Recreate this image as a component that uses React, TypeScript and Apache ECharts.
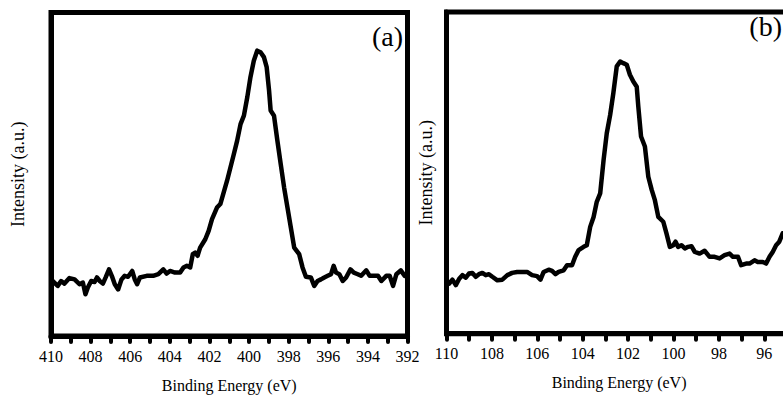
import React, { useEffect, useRef } from "react";
import * as echarts from "echarts";

// Panel (a): N 1s region
const energyA = [
  409.92, 409.66, 409.49, 409.32, 409.07, 408.81, 408.56, 408.39, 408.26, 408.14,
  407.97, 407.8, 407.68, 407.54, 407.38, 407.24, 407.07, 406.9, 406.78, 406.61,
  406.44, 406.28, 406.11, 405.9, 405.77, 405.65, 405.51, 405.17, 404.84, 404.58,
  404.33, 404.16, 403.99, 403.74, 403.48, 403.31, 403.14, 402.97, 402.84, 402.72,
  402.6, 402.47, 402.21, 402.04, 401.87, 401.62, 401.45, 401.28, 401.11, 400.94,
  400.77, 400.6, 400.43, 400.26, 400.09, 399.93, 399.76, 399.59, 399.42, 399.25,
  399.11, 398.99, 398.91, 398.74, 398.57, 398.4, 398.23, 398.06, 397.89, 397.72,
  397.47, 397.3, 397.13, 396.88, 396.71, 396.54, 396.37, 396.2, 396.03, 395.86,
  395.73, 395.61, 395.44, 395.27, 395.1, 394.88, 394.71, 394.51, 394.34, 394.08,
  393.91, 393.75, 393.49, 393.32, 393.07, 392.9, 392.73, 392.56, 392.34, 392.14,
];
const intensityA = [
  17.0, 15.5, 17.0, 16.2, 17.9, 17.5, 16.0, 16.5, 12.9, 15.0,
  17.0, 16.7, 18.1, 17.0, 16.2, 18.1, 20.6, 18.1, 16.0, 14.4,
  17.5, 18.6, 18.3, 20.1, 17.5, 16.0, 18.1, 18.6, 18.6, 19.1,
  20.6, 19.3, 20.1, 19.6, 19.6, 21.2, 21.7, 21.2, 25.3, 25.8,
  24.8, 27.3, 29.9, 32.5, 36.1, 39.7, 40.8, 44.4, 48.0, 52.1,
  56.2, 60.4, 65.5, 68.1, 73.8, 80.0, 85.1, 88.2, 87.7, 86.2,
  83.1, 75.9, 69.7, 68.1, 60.4, 53.1, 45.9, 39.7, 33.5, 27.3,
  25.3, 21.2, 18.3, 18.1, 15.5, 17.0, 17.5, 18.1, 18.6, 19.1,
  21.7, 19.6, 19.1, 17.0, 18.1, 20.6, 19.6, 19.1, 18.6, 20.3,
  18.6, 18.6, 18.6, 17.0, 18.6, 18.6, 15.5, 19.1, 20.3, 18.6,
];

// Panel (b): Si 2p region
const energyB = [
  109.88, 109.74, 109.59, 109.44, 109.3, 109.15, 109.01, 108.86, 108.71, 108.57,
  108.42, 108.27, 108.13, 107.98, 107.76, 107.54, 107.32, 107.11, 106.89, 106.67,
  106.45, 106.23, 106.01, 105.86, 105.72, 105.5, 105.35, 105.2, 105.06, 104.84,
  104.69, 104.47, 104.33, 104.18, 103.96, 103.82, 103.67, 103.52, 103.38, 103.23,
  103.08, 102.94, 102.79, 102.65, 102.5, 102.35, 102.21, 102.06, 101.92, 101.77,
  101.62, 101.55, 101.43, 101.26, 101.11, 100.96, 100.82, 100.67, 100.45, 100.31,
  100.16, 100.01, 99.91, 99.8, 99.65, 99.5, 99.36, 99.21, 99.06, 98.85,
  98.63, 98.41, 98.19, 97.97, 97.75, 97.53, 97.38, 97.16, 97.02, 96.8,
  96.65, 96.43, 96.29, 96.07, 95.92, 95.77, 95.63, 95.48, 95.34, 95.19,
];
const intensityB = [
  15.6, 16.8, 15.1, 17.1, 18.2, 17.4, 18.7, 18.9, 17.7, 18.5,
  18.9, 18.2, 18.5, 17.7, 16.6, 16.8, 18.2, 18.9, 19.2, 19.2,
  19.2, 18.2, 17.9, 16.8, 19.2, 19.9, 19.5, 18.5, 19.2, 19.7,
  21.3, 21.3, 23.9, 26.0, 27.0, 27.5, 33.2, 36.3, 41.0, 43.6,
  54.0, 62.3, 68.0, 74.8, 83.1, 84.6, 84.1, 83.6, 80.5, 78.4,
  76.8, 70.6, 61.3, 58.2, 48.8, 44.7, 41.5, 36.3, 34.8, 31.2,
  27.0, 27.5, 28.6, 27.0, 27.5, 26.5, 27.0, 27.2, 25.4, 24.9,
  25.8, 23.9, 23.9, 23.4, 24.4, 24.9, 23.9, 23.9, 21.3, 21.8,
  21.8, 22.8, 22.3, 22.3, 21.8, 23.9, 25.4, 27.5, 28.6, 31.2,
];

const rangeA = [392, 410];
const rangeB = [94, 110];
const panelLabels = ["(a)", "(b)"];
const xName = "Binding Energy (eV)";
const yName = "Intensity (a.u.)";

const FONT = "Liberation Serif";

function zip(xs: number[], ys: number[]) {
  return xs.map((x, i) => [x, ys[i]]);
}

function makeXAxis(gridIndex: number, range: number[], nameOffset: number, showRightEnd: boolean) {
  return {
    gridIndex,
    type: "value",
    min: range[0],
    max: range[1],
    interval: 2,
    inverse: true,
    name: xName,
    nameLocation: "middle",
    nameGap: 41,
    nameTextStyle: {
      fontFamily: FONT,
      fontSize: 16,
      color: "#000",
      padding: nameOffset > 0 ? [0, nameOffset, 0, 0] : 0,
    },
    axisLine: { show: true, lineStyle: { color: "#000", width: 5 } },
    axisTick: {
      show: true,
      length: 6,
      lineStyle: { color: "#000", width: 4, cap: "round" },
    },
    minorTick: {
      show: true,
      splitNumber: 2,
      length: 6,
      lineStyle: { color: "#000", width: 4, cap: "round" },
    },
    axisLabel: {
      show: true,
      margin: 12,
      fontFamily: FONT,
      fontSize: 16,
      color: "#000",
      showMinLabel: showRightEnd,
      showMaxLabel: true,
    },
    splitLine: { show: false },
    minorSplitLine: { show: false },
  };
}

function makeYAxis(gridIndex: number, gap: number) {
  return {
    gridIndex,
    type: "value",
    min: 0,
    max: 100,
    name: yName,
    nameLocation: "middle",
    nameGap: gap,
    nameTextStyle: { fontFamily: FONT, fontSize: 18, color: "#000" },
    axisLine: { show: true, lineStyle: { color: "#000", width: 5 } },
    axisTick: { show: false },
    axisLabel: { show: false },
    splitLine: { show: false },
  };
}

export default function App() {
  const ref = useRef<HTMLDivElement>(null);
  useEffect(() => {
    if (!ref.current) return;
    const chart = echarts.init(ref.current, undefined, { renderer: "svg" });
    chart.setOption({
      animation: false,
      backgroundColor: "#fff",
      textStyle: { fontFamily: FONT },
      grid: [
        {
          left: 51,
          top: 12.5,
          width: 356.5,
          height: 323.5,
          show: true,
          borderColor: "#000",
          borderWidth: 5,
          backgroundColor: "transparent",
          outerBoundsMode: "none",
          containLabel: false,
        },
        {
          left: 446.5,
          top: 12,
          width: 363.2,
          height: 321.7,
          show: true,
          borderColor: "#000",
          borderWidth: 5,
          backgroundColor: "transparent",
          outerBoundsMode: "none",
          containLabel: false,
        },
      ],
      xAxis: [makeXAxis(0, rangeA, 0, true), makeXAxis(1, rangeB, 18, false)],
      yAxis: [makeYAxis(0, 24), makeYAxis(1, 12)],
      series: [
        {
          type: "line",
          xAxisIndex: 0,
          yAxisIndex: 0,
          data: zip(energyA, intensityA),
          showSymbol: false,
          symbol: "none",
          lineStyle: { color: "#000", width: 4.5, join: "round", cap: "round" },
        },
        {
          type: "line",
          xAxisIndex: 1,
          yAxisIndex: 1,
          data: zip(energyB, intensityB),
          showSymbol: false,
          symbol: "none",
          lineStyle: { color: "#000", width: 4.5, join: "round", cap: "round" },
        },
      ],
      graphic: [
        {
          type: "text",
          right: 783 - 403,
          top: 22,
          style: {
            text: panelLabels[0],
            fontFamily: FONT,
            fontSize: 28,
            fill: "#000",
          },
        },
        {
          type: "text",
          right: 1,
          top: 12,
          style: {
            text: panelLabels[1],
            fontFamily: FONT,
            fontSize: 28,
            fill: "#000",
          },
        },
      ],
    });
    return () => chart.dispose();
  }, []);
  return (
    <div
      ref={ref}
      style={{
        position: "fixed",
        left: 0,
        top: 0,
        width: 783,
        height: 396,
        overflow: "hidden",
        background: "#fff",
      }}
    />
  );
}
